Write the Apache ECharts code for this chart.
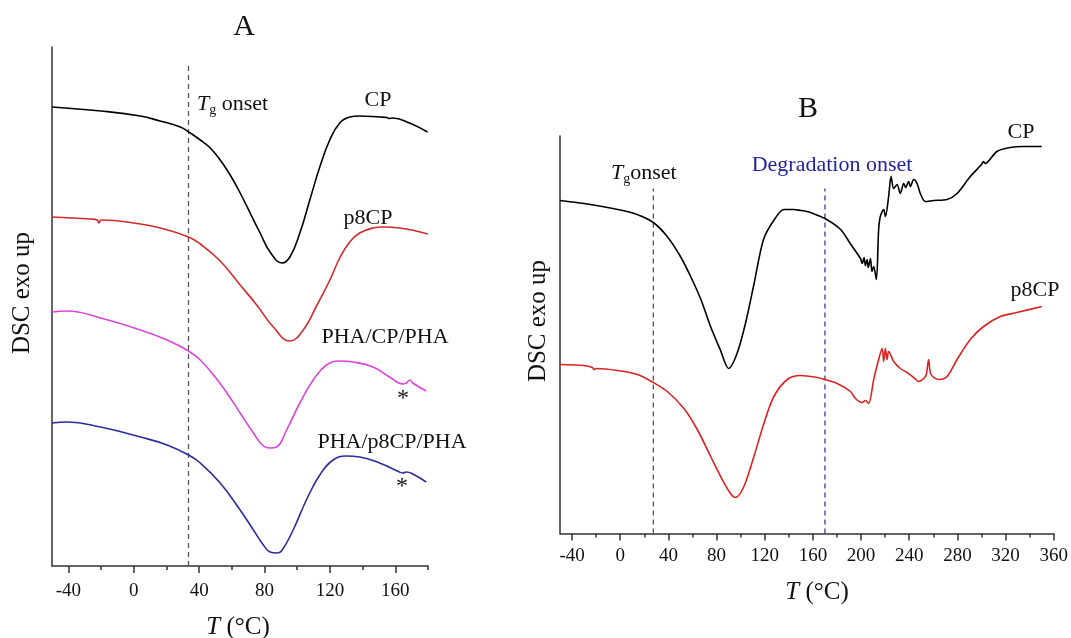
<!DOCTYPE html>
<html>
<head>
<meta charset="utf-8">
<script src="https://cdn.jsdelivr.net/npm/echarts@6/dist/echarts.min.js"></script>
<style>
html,body{margin:0;padding:0;background:#fff;}
#chart{width:1071px;height:638px;}
</style>
</head>
<body>
<div id="chart"></div>
<script>
// ---------- Panel A (DSC, arbitrary units, exo up) ----------
const A_T_CP = [-50,-20,4,16,28.5,34.6,40.7,46.8,52.9,59,65.1,71.2,77.3,83.4,90.7,95.5,101.6,107.7,113.8,119.9,126,132.1,138.2,150.4,155,156,158.4,168.7,179.7];
const A_CP   = [4.59,4.55,4.50,4.45,4.39,4.33,4.26,4.18,4.06,3.91,3.73,3.53,3.33,3.14,3.03,3.09,3.33,3.66,3.99,4.26,4.43,4.49,4.50,4.49,4.485,4.475,4.48,4.43,4.34];

const A_T_P8 = [-50,-26.4,-22.3,-21.3,-19.9,4.1,16.3,33.5,40.7,52.9,65.1,75.2,85.4,95.5,103.7,111.8,120,126,132.1,138.2,146.3,152.4,162.6,179.9];
const A_P8   = [3.49,3.47,3.46,3.43,3.46,3.42,3.38,3.29,3.22,3.05,2.81,2.61,2.39,2.25,2.36,2.60,2.86,3.08,3.24,3.33,3.38,3.39,3.38,3.32];

const A_T_PCP = [-50,-40.6,-20.3,4.1,20.4,33.5,40.7,49.8,57,65.1,73.2,79.3,83.4,87.4,93.5,101.6,109.8,117.9,126,134.1,146.3,156.5,164.6,166.7,169.1,170.7,178.9];
const A_PCP   = [2.54,2.55,2.48,2.36,2.26,2.15,2.06,1.89,1.73,1.53,1.33,1.20,1.18,1.19,1.36,1.63,1.86,2.01,2.05,2.04,1.99,1.89,1.82,1.83,1.86,1.83,1.75];

const A_T_PP8 = [-50,-40.6,-20.3,4.1,20.4,33.5,40.7,52.9,65.1,73.2,79.3,83.4,87.4,90.4,97.5,105.6,113.8,121.9,130,138.2,150.4,162.6,164.6,166.7,170.7,178.9];
const A_PP8   = [1.43,1.44,1.39,1.29,1.21,1.11,1.03,0.83,0.56,0.36,0.21,0.14,0.13,0.15,0.36,0.66,0.91,1.06,1.10,1.09,1.03,0.94,0.93,0.94,0.92,0.84];

// ---------- Panel B ----------
const B_T_CP = [-50,-30,-2,14,27.5,39,50,58.5,67,75,83,90,97,104,111,119,128,136,144,150,155,158,170,183,191,199.5,201,202.5,203.6,205,206,207.8,209,210.5,212.7,214.6,216,218.8,220.2,222.9,224.9,227.1,229.9,232.6,235.4,237,239.5,241,243.7,246.5,249.2,253.4,260.2,271.4,279.7,290.7,300,301.7,303,312.8,323.9,334.9,350];
const B_CP   = [3.33,3.30,3.24,3.19,3.11,2.97,2.77,2.57,2.34,2.07,1.84,1.65,1.80,2.10,2.49,2.94,3.14,3.24,3.24,3.23,3.22,3.21,3.15,3.04,2.90,2.75,2.70,2.76,2.68,2.74,2.66,2.75,2.62,2.67,2.54,3.04,3.17,3.24,3.17,3.37,3.57,3.45,3.49,3.40,3.50,3.46,3.52,3.47,3.54,3.50,3.40,3.32,3.33,3.34,3.40,3.57,3.69,3.72,3.70,3.82,3.86,3.87,3.87];

const B_T_P8 = [-50,-30,-23.1,-21.7,-19.5,-2.3,14.3,27.5,39.1,52.9,64,75.1,83.4,91.6,95.8,102.7,111,119.3,127.6,138.7,149.7,163.5,169.8,180.1,191.2,195.3,200.9,203.6,206.3,210.5,214.6,217.5,218.8,220.2,221.6,222.9,227.1,232.6,238.2,243.7,247.8,252,254.2,256.1,258.1,264.4,271.4,279.7,290.7,301.7,315.6,329.4,350.1];
const B_P8   = [1.69,1.68,1.66,1.64,1.65,1.63,1.59,1.51,1.42,1.25,1.04,0.77,0.57,0.40,0.36,0.47,0.77,1.10,1.37,1.54,1.58,1.56,1.54,1.50,1.42,1.35,1.31,1.33,1.30,1.54,1.74,1.85,1.72,1.85,1.74,1.82,1.72,1.65,1.61,1.56,1.52,1.55,1.59,1.74,1.59,1.54,1.57,1.74,1.94,2.07,2.17,2.21,2.27];

// axis ticks
const A_MAJOR = [-40,0,40,80,120,160];
const A_MINOR = [-20,20,60,100,140,180];
const B_MAJOR = [-40,0,40,80,120,160,200,240,280,320,360];
const B_MINOR = [-20,20,60,100,140,180,220,260,300,340];

// onset markers
const A_TG = 33.5;
const B_TG = 27.5;
const B_DEG = 170;

const zip = (xs, ys) => xs.map((x, i) => [x, ys[i]]);

const SERIF = '"Liberation Serif", "Times New Roman", serif';
const AXC = '#333';

function xAxes(grid, min, max, major, minor, margin) {
  return [
    { type:'value', gridIndex:grid, min, max, position:'bottom', offset:0,
      axisLine:{show:true, onZero:false, lineStyle:{color:AXC, width:1.5}},
      axisTick:{show:true, customValues:major, length:7, lineStyle:{color:AXC, width:1.5}},
      axisLabel:{show:true, customValues:major, margin, color:'#111', fontFamily:SERIF, fontSize:19},
      splitLine:{show:false} },
    { type:'value', gridIndex:grid, min, max, position:'bottom', offset:0,
      axisLine:{show:false},
      axisTick:{show:true, customValues:minor, length:4, lineStyle:{color:AXC, width:1.5}},
      axisLabel:{show:false}, splitLine:{show:false} }
  ];
}
function yAxis(grid, max) {
  return { type:'value', gridIndex:grid, min:0, max,
    axisLine:{show:true, onZero:false, lineStyle:{color:AXC, width:1.5}},
    axisTick:{show:false}, axisLabel:{show:false}, splitLine:{show:false} };
}
function curve(name, x, y, data, color, sm) {
  return { name, type:'line', xAxisIndex:x, yAxisIndex:y, data, showSymbol:false,
    smooth:sm, lineStyle:{color, width:1.6}, silent:true, z:3 };
}
function vline(x, y, t, top, color) {
  return { type:'line', xAxisIndex:x, yAxisIndex:y, data:[[t,0],[t,top]], showSymbol:false,
    lineStyle:{color, width:1.3, type:[5,4]}, silent:true, z:2 };
}

function txt(text, x, y, size, opt) {
  opt = opt || {};
  return { type:'text', x, y, rotation: opt.rot || 0, z:10,
    style:{ text, fill: opt.color || '#111', font: (opt.italic?'italic ':'') + size + 'px ' + SERIF,
      textAlign: opt.align || 'center', textVerticalAlign: opt.valign || 'middle', rich: opt.rich } };
}
const tgRich = {
  i:{fontFamily:SERIF, fontStyle:'italic', fontSize:22, fill:'#111'},
  s:{fontFamily:SERIF, fontSize:14, fill:'#111', padding:[12,0,0,0]},
  n:{fontFamily:SERIF, fontSize:22, fill:'#111'}
};
const tRich = {
  i:{fontFamily:SERIF, fontStyle:'italic', fontSize:25, fill:'#111'},
  n:{fontFamily:SERIF, fontSize:25, fill:'#111'}
};

const chart = echarts.init(document.getElementById('chart'), null, {renderer:'canvas'});
chart.setOption({
  animation:false,
  backgroundColor:'#fff',
  grid:[
    {left:52, top:47, width:376, height:519},
    {left:560, top:136, width:494, height:397.5}
  ],
  xAxis:[
    ...xAxes(0, -50, 180, A_MAJOR, A_MINOR, 16),
    ...xAxes(1, -50, 360, B_MAJOR, B_MINOR, 13)
  ],
  yAxis:[ yAxis(0, 5.19), yAxis(1, 3.975) ],
  series:[
    vline(0, 0, A_TG, 5.04, '#555'),
    curve('CP', 0, 0, zip(A_T_CP, A_CP), '#000', 0.45),
    curve('p8CP', 0, 0, zip(A_T_P8, A_P8), '#d12a2a', 0.45),
    curve('PHA/CP/PHA', 0, 0, zip(A_T_PCP, A_PCP), '#dd44dd', 0.45),
    curve('PHA/p8CP/PHA', 0, 0, zip(A_T_PP8, A_PP8), '#2c2c9c', 0.45),
    vline(2, 1, B_TG, 3.45, '#555'),
    vline(2, 1, B_DEG, 3.45, '#3a3aa6'),
    curve('CP', 2, 1, zip(B_T_CP, B_CP), '#000', 0.3),
    curve('p8CP', 2, 1, zip(B_T_P8, B_P8), '#dd2222', 0.3)
  ],
  graphic:[
    txt('A', 244, 27, 30),
    txt('B', 808, 109, 30),
    txt('DSC exo up', 22, 293, 25, {rot:Math.PI/2}),
    txt('DSC exo up', 538, 321, 25, {rot:Math.PI/2}),
    txt('{i|T} {n|(°C)}', 238, 627, 25, {rich:tRich}),
    txt('{i|T} {n|(°C)}', 817, 592, 25, {rich:tRich}),
    txt('{i|T}{s|g} {n|onset}', 197, 104, 22, {align:'left', rich:tgRich}),
    txt('{i|T}{s|g}{n|onset}', 611, 173, 22, {align:'left', rich:tgRich}),
    txt('Degradation onset', 832, 165, 22, {color:'#2323a0'}),
    txt('CP', 378, 100, 22),
    txt('p8CP', 368, 218, 22),
    txt('PHA/CP/PHA', 385, 337, 22),
    txt('PHA/p8CP/PHA', 392, 442, 22),
    txt('*', 403, 399, 24),
    txt('*', 402, 487, 24),
    txt('CP', 1021, 132, 22),
    txt('p8CP', 1035, 290, 22)
  ]
});
</script>
</body>
</html>
